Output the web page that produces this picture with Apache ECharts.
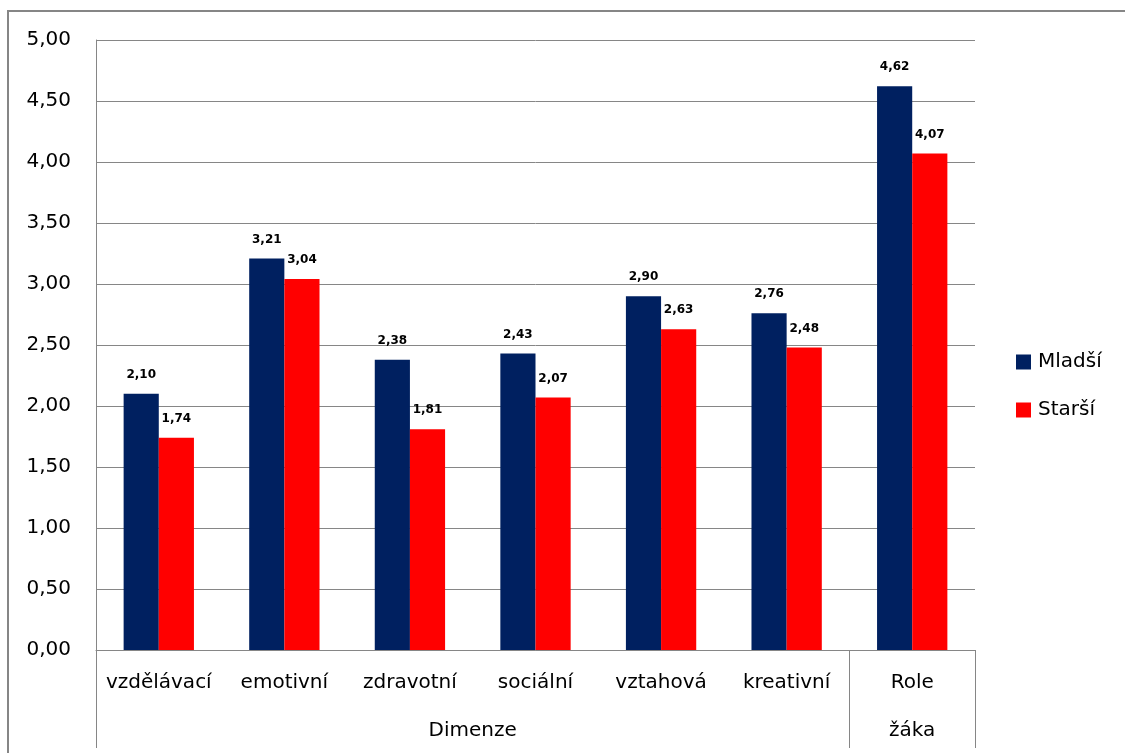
<!DOCTYPE html>
<html>
<head>
<meta charset="utf-8">
<script src="https://cdn.jsdelivr.net/npm/echarts@6/dist/echarts.min.js"></script>
<style>
  html, body { margin: 0; padding: 0; background: #fff; }
  #chart { width: 1125px; height: 753px; }
</style>
</head>
<body>
<div id="chart"></div>
<script>
// categories (first row) and the group row under them
const categories = ['vzdělávací', 'emotivní', 'zdravotní', 'sociální', 'vztahová', 'kreativní', 'Role'];
const groupLabels = { 3: 'Dimenze', 6.5: 'žáka' };
const groupBounds = [0, 6, 7];

const mladsi = [2.10, 3.21, 2.38, 2.43, 2.90, 2.76, 4.62];
const starsi = [1.74, 3.04, 1.81, 2.07, 2.63, 2.48, 4.07];

const fmt = v => Number(v).toFixed(2).replace('.', ',');
const gray = '#868686';
const font = 'DejaVu Sans';

let chart = echarts.init(document.getElementById('chart'));
let option = {
  animation: false,
  textStyle: { fontFamily: font },
  graphic: [{
    type: 'rect',
    shape: { x: 8, y: 11, width: 1140, height: 780 },
    style: { fill: 'none', stroke: gray, lineWidth: 2 },
    silent: true
  }],
  legend: {
    orient: 'vertical',
    left: 1011,
    top: 347,
    itemWidth: 15,
    itemHeight: 15,
    itemGap: 28,
    icon: 'rect',
    textStyle: { fontSize: 20, color: '#000', fontFamily: font, padding: [0, 0, 0, 2] },
    data: ['Mladší', 'Starší']
  },
  grid: { left: 96, top: 40, right: 150, bottom: 103 },
  xAxis: [
    {
      type: 'category',
      data: categories,
      axisLine: { lineStyle: { color: gray } },
      axisTick: { show: false },
      axisLabel: { fontSize: 20, color: '#000', margin: 23, interval: 0 }
    },
    {
      type: 'value',
      position: 'bottom',
      min: 0,
      max: 7,
      axisLine: { show: false },
      splitLine: { show: false },
      axisTick: {
        show: true,
        customValues: groupBounds,
        length: 98,
        lineStyle: { color: gray }
      },
      axisLabel: {
        customValues: Object.keys(groupLabels).map(Number),
        formatter: v => groupLabels[v] || '',
        fontSize: 20,
        color: '#000',
        margin: 71
      }
    }
  ],
  yAxis: {
    type: 'value',
    min: 0,
    max: 5,
    interval: 0.5,
    axisLine: { show: true, lineStyle: { color: gray } },
    axisTick: { show: false },
    splitLine: { lineStyle: { color: gray } },
    axisLabel: { formatter: fmt, fontSize: 20, color: '#000', margin: 25 }
  },
  series: [
    {
      name: 'Mladší',
      type: 'bar',
      xAxisIndex: 0,
      barWidth: '28%',
      barGap: '0%',
      itemStyle: { color: '#002060' },
      label: {
        show: true, position: 'top', distance: 13,
        formatter: p => fmt(p.value),
        fontFamily: 'DejaVu Sans', fontSize: 12, fontWeight: 'bold', color: '#000'
      },
      data: mladsi
    },
    {
      name: 'Starší',
      type: 'bar',
      xAxisIndex: 0,
      barWidth: '28%',
      barGap: '0%',
      itemStyle: { color: '#FF0000' },
      label: {
        show: true, position: 'top', distance: 13,
        formatter: p => fmt(p.value),
        fontFamily: 'DejaVu Sans', fontSize: 12, fontWeight: 'bold', color: '#000'
      },
      data: starsi
    }
  ]
};
chart.setOption(option);
</script>
</body>
</html>
